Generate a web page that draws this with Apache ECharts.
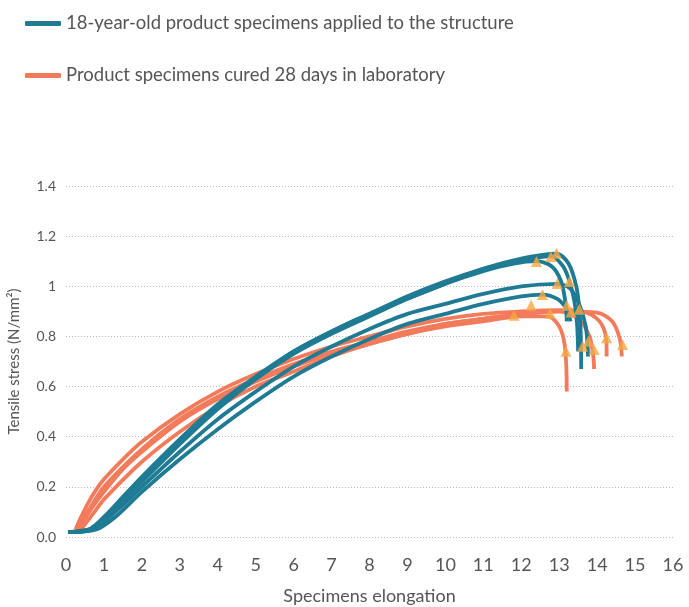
<!DOCTYPE html>
<html>
<head>
<meta charset="utf-8">
<script src="https://cdn.jsdelivr.net/npm/echarts@6/dist/echarts.min.js"></script>
<style>
  html, body { margin: 0; padding: 0; background: #fff; }
  #chart { width: 689px; height: 607px; }
</style>
</head>
<body>
<div id="chart"></div>
<script>
const agedName = "18-year-old product specimens applied to the structure";
const labName = "Product specimens cured 28 days in laboratory";

// 18-year-old specimens [elongation, stress]
const aged1 = [[0.05,0.02],[0.6,0.03],[1,0.08],[1.5,0.16],[2,0.24],[3,0.39],[4,0.53],[5,0.64],[6,0.74],[7,0.82],[8,0.89],[9,0.95],[10,1.01],[11,1.06],[11.8,1.09],[12.4,1.1],[12.8,1.08],[13.05,1.02],[13.17,0.93],[13.2,0.86]];
const aged2 = [[0.1,0.02],[0.7,0.03],[1.1,0.08],[1.6,0.16],[2,0.22],[3,0.37],[4,0.51],[5,0.63],[6,0.73],[7,0.81],[8,0.88],[9,0.95],[10,1.01],[11,1.07],[12,1.1],[12.78,1.12],[13.1,1.08],[13.27,1.02],[13.4,0.94],[13.47,0.85],[13.5,0.74]];
const aged3 = [[0.1,0.02],[0.6,0.025],[1,0.07],[2,0.23],[3,0.38],[4,0.52],[5,0.63],[6,0.74],[7,0.82],[8,0.89],[9,0.96],[10,1.02],[11,1.07],[12,1.11],[12.93,1.13],[13.25,1.09],[13.45,1.0],[13.53,0.91],[13.57,0.8],[13.58,0.67]];
const aged4 = [[0.15,0.02],[0.8,0.04],[1.3,0.1],[2,0.2],[3,0.34],[4,0.47],[5,0.58],[6,0.68],[7,0.76],[8,0.83],[9,0.89],[10,0.93],[11,0.97],[12,1.0],[12.95,1.01],[13.3,0.99],[13.55,0.92],[13.7,0.84],[13.75,0.76],[13.76,0.72]];
const aged5 = [[0.2,0.02],[0.8,0.03],[1.3,0.08],[2,0.18],[3,0.31],[4,0.43],[5,0.54],[6,0.64],[7,0.72],[8,0.79],[9,0.85],[10,0.89],[11,0.93],[12,0.96],[12.56,0.967],[12.95,0.95],[13.15,0.92],[13.25,0.89],[13.3,0.86]];

// laboratory specimens
const lab1 = [[0.25,0.03],[0.4,0.08],[0.6,0.14],[0.8,0.19],[1,0.23],[1.5,0.31],[2,0.38],[3,0.49],[4,0.58],[5,0.65],[6,0.71],[7,0.76],[8,0.8],[9,0.84],[10,0.87],[11,0.89],[12,0.9],[13,0.905],[13.6,0.9],[14.0,0.87],[14.2,0.82],[14.25,0.75],[14.25,0.72]];
const lab2 = [[0.3,0.02],[0.45,0.06],[0.7,0.12],[1,0.18],[1.5,0.27],[2,0.34],[3,0.46],[4,0.55],[5,0.62],[6,0.68],[7,0.73],[8,0.77],[9,0.81],[10,0.84],[11,0.86],[12,0.88],[12.7,0.88],[13.0,0.84],[13.15,0.76],[13.2,0.58]];
const lab3 = [[0.35,0.02],[0.5,0.05],[0.75,0.1],[1,0.15],[2,0.3],[3,0.42],[4,0.52],[5,0.6],[6,0.66],[7,0.72],[8,0.77],[9,0.81],[10,0.85],[11,0.87],[12,0.89],[13,0.9],[13.5,0.87],[13.8,0.8],[13.9,0.72],[13.92,0.67]];
const lab4 = [[0.25,0.02],[0.4,0.06],[0.65,0.12],[1,0.2],[2,0.35],[3,0.47],[4,0.56],[5,0.63],[6,0.69],[7,0.74],[8,0.78],[9,0.82],[10,0.85],[11,0.87],[12,0.89],[13,0.9],[14,0.895],[14.4,0.86],[14.6,0.79],[14.65,0.72]];

// triangle markers
const markers = [[12.4,1.099],[12.78,1.119],[12.93,1.132],[12.95,1.011],[13.27,1.019],[12.56,0.967],[12.26,0.924],[11.81,0.884],[12.76,0.892],[13.2,0.924],[13.31,0.897],[13.53,0.908],[13.18,0.741],[13.62,0.761],[13.77,0.781],[13.92,0.748],[14.25,0.795],[14.67,0.768]];

const teal = "#1f7b94";
const orange = "#f27b5b";
const font = "Lato";

function curve(name, data, color) {
  return {
    name: name,
    type: "line",
    data: data,
    smooth: 0.3,
    symbol: "none",
    lineStyle: { color: color, width: 3.8 },
    itemStyle: { color: color },
  };
}

const chart = echarts.init(document.getElementById("chart"));
chart.setOption({
  animation: false,
  legend: {
    data: [agedName, labName],
    orient: "vertical",
    left: 20,
    top: 9,
    itemGap: 33,
    icon: "roundRect",
    itemWidth: 36,
    itemHeight: 5,
    textStyle: { fontFamily: font, fontSize: 18.5, color: "#555" },
  },
  grid: { left: 66, right: 16, top: 186, bottom: 70, outerBoundsMode: "none" },
  xAxis: {
    type: "value",
    min: 0,
    max: 16,
    interval: 1,
    name: "Specimens elongation",
    nameLocation: "middle",
    nameGap: 50,
    nameTextStyle: { fontFamily: font, fontSize: 18, color: "#555" },
    axisLine: { show: false },
    axisTick: { show: false },
    splitLine: { show: false },
    axisLabel: { fontFamily: font, fontSize: 18, color: "#555", margin: 19 },
  },
  yAxis: {
    type: "value",
    min: 0,
    max: 1.4,
    interval: 0.2,
    name: "Tensile stress (N/mm²)",
    nameLocation: "middle",
    nameGap: 44,
    nameTextStyle: { fontFamily: font, fontSize: 15, color: "#555" },
    axisLine: { show: false },
    axisTick: { show: false },
    axisLabel: {
      fontFamily: font,
      fontSize: 14,
      color: "#555",
      margin: 10,
      formatter: (v) => (v === 0 ? "0.0" : String(Math.round(v * 10) / 10)),
    },
    splitLine: { lineStyle: { color: "#bbb", type: [1, 2] } },
  },
  series: [
    curve(labName, lab1, orange),
    curve(labName, lab2, orange),
    curve(labName, lab3, orange),
    curve(labName, lab4, orange),
    curve(agedName, aged1, teal),
    curve(agedName, aged2, teal),
    curve(agedName, aged3, teal),
    curve(agedName, aged4, teal),
    curve(agedName, aged5, teal),
    {
      name: "markers",
      type: "scatter",
      data: markers,
      symbol: "triangle",
      symbolSize: 11,
      itemStyle: { color: "#f5a843" },
      z: 5,
    },
  ],
});
</script>
</body>
</html>
